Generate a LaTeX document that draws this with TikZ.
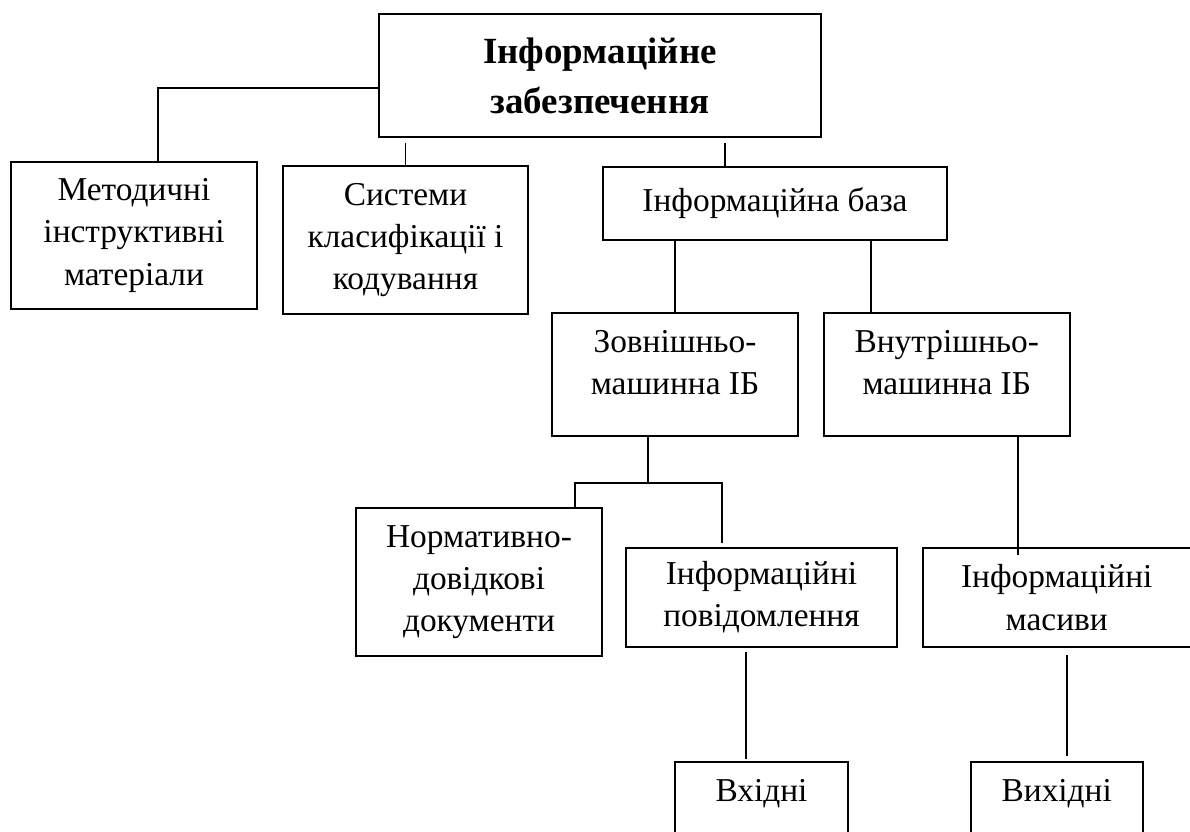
\documentclass[tikz,border=0pt]{standalone}
\usepackage{fontspec}
\setmainfont{Liberation Serif}
\usetikzlibrary{positioning, calc}

\begin{document}
\begin{tikzpicture}[line width=0.35mm,
  box/.style={draw, rectangle, align=center, inner sep=2pt, font=\fontsize{19}{24}\selectfont}]

\path[use as bounding box] (0,0) rectangle (23.8,-16.64);
\clip (0,0) rectangle (23.8,-16.64);

% Top and first level blocks
\node (zab) [box, minimum width=8.84cm, minimum height=2.46cm, font=\fontsize{21}{28.5}\selectfont\bfseries] at (12.0,-1.51) {Інформаційне\\забезпечення};
\node (metod) [box, minimum width=4.92cm, minimum height=2.94cm] at (2.68,-4.71) {Методичні\\інструктивні\\матеріали};
\node (sys) [box, minimum width=4.90cm, minimum height=2.96cm] at (8.11,-4.80) {Системи\\класифікації і\\кодування};
\node (baza) [box, minimum width=6.88cm, minimum height=1.46cm] at (15.50,-4.07) {Інформаційна база};

% Second level
\node (zovn) [box, minimum width=4.92cm, minimum height=2.46cm] at (13.50,-7.49) {Зовнішньо-\\машинна ІБ\\[-10pt]\mbox{}};
\node (vnutr) [box, minimum width=4.92cm, minimum height=2.46cm, right=0.48cm of zovn] {Внутрішньо-\\машинна ІБ\\[-10pt]\mbox{}};

% Third and fourth level
\node (norm) [box, minimum width=4.92cm, minimum height=2.96cm] at (9.58,-11.64) {Нормативно-\\довідкові\\документи};
\node (povid) [box, minimum width=5.42cm, minimum height=1.98cm] at (15.23,-11.95) {Інформаційні\\повідомлення};
\node (masyv) [box, minimum width=5.36cm, minimum height=1.98cm, right=0.48cm of povid] {Інформаційні\\масиви};
\node (vkh) [box, minimum width=3.46cm, minimum height=1.98cm, below=2.26cm of povid] {Вхідні\\\mbox{}};
\node (vykh) [box, minimum width=3.44cm, minimum height=1.98cm, below=2.26cm of masyv] {Вихідні\\\mbox{}};

% Connectors
\draw ([yshift=-0.25cm]zab.west) -| ([xshift=0.48cm]metod.north);
\draw[shorten >=0.1cm] (sys.north) -- (sys.north |- zab.south);
\coordinate (bz) at ([xshift=-1cm]baza.north);
\draw[shorten >=0.1cm] (bz) -- (bz |- zab.south);
\draw (zovn.north) -- (zovn.north |- baza.south);
\coordinate (bv) at ([xshift=-1.52cm]vnutr.north);
\draw (bv) -- (bv |- baza.south);

\coordinate (zf) at ([xshift=-0.54cm,yshift=-0.92cm]zovn.south);
\draw ([xshift=-0.54cm]zovn.south) -- (zf);
\draw ([xshift=1.92cm]norm.north) |- (zf);
\draw[shorten <=0.08cm] ([xshift=-0.79cm]povid.north) |- (zf);

\coordinate (vm) at ([xshift=1.42cm]vnutr.south);
\draw (vm) -- ([yshift=-0.16cm]vm |- masyv.north);

\coordinate (pv) at ([xshift=-0.31cm]povid.south);
\draw[shorten <=0.08cm, shorten >=0.04cm] (pv) -- (pv |- vkh.north);
\coordinate (mv) at ([xshift=0.2cm]masyv.south);
\draw[shorten <=0.14cm, shorten >=0.1cm] (mv) -- (mv |- vykh.north);
\end{tikzpicture}
\end{document}
